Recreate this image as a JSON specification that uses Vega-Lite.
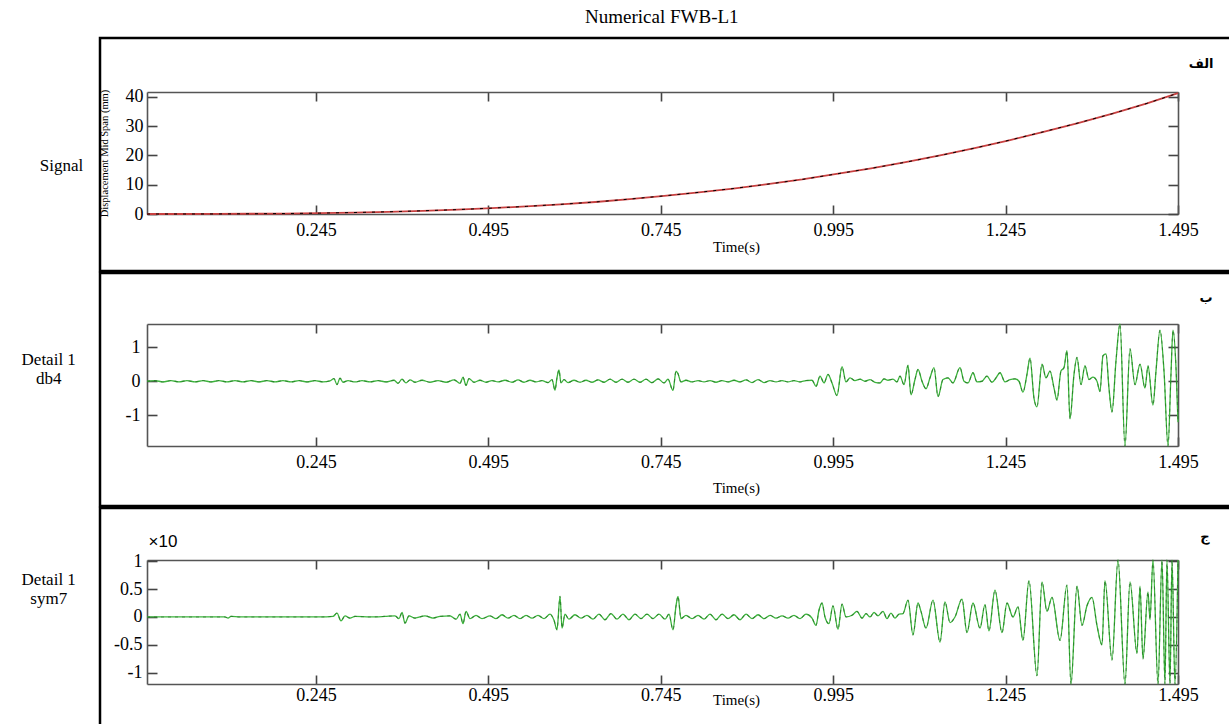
{
 "$schema": "https://vega.github.io/schema/vega-lite/v6.json",
 "padding": {"left": 20, "top": 7, "right": 0, "bottom": 0},
 "title": {"text": "Numerical FWB-L1", "font": "Liberation Serif", "fontSize": 19, "fontWeight": "normal", "anchor": "middle", "offset": 10, "dx": 31, "color": "#000"},
 "spacing": -2.5,
 "config": {
  "view": {"stroke": "#000", "strokeWidth": 2.5},
  "font": "Liberation Serif",
  "axis": {"grid": false, "domainColor": "#555", "domainWidth": 1.6, "tickColor": "#444", "tickWidth": 1.6, "labelColor": "#000", "labelFont": "Liberation Serif", "labelFontSize": 18, "labelFlush": false, "titleFont": "Liberation Serif", "titleFontWeight": "normal", "titleColor": "#000"},
  "title": {"font": "Liberation Serif", "fontWeight": "normal", "color": "#000"}
 },
 "datasets": {
  "sig": [
   {"t":0,"v":0},{"t":0.05,"v":0},{"t":0.1,"v":0.02},{"t":0.15,"v":0.08},{"t":0.2,"v":0.16},{"t":0.25,"v":0.3},{"t":0.3,"v":0.5},{"t":0.35,"v":0.76},{"t":0.4,"v":1.1},{"t":0.45,"v":1.5},{"t":0.5,"v":2.0},{"t":0.55,"v":2.6},{"t":0.6,"v":3.3},{"t":0.65,"v":4.1},{"t":0.7,"v":5.1},{"t":0.75,"v":6.2},{"t":0.8,"v":7.4},{"t":0.85,"v":8.7},{"t":0.9,"v":10.2},{"t":0.95,"v":11.8},{"t":1.0,"v":13.7},{"t":1.05,"v":15.6},{"t":1.1,"v":17.7},{"t":1.15,"v":20.0},{"t":1.2,"v":22.5},{"t":1.25,"v":25.2},{"t":1.3,"v":28.1},{"t":1.35,"v":31.1},{"t":1.4,"v":34.3},{"t":1.45,"v":37.8},{"t":1.495,"v":41.3}
  ],
  "db4": [
   {"t":0,"v":0},{"t":0.0116,"v":0.02},{"t":0.0232,"v":-0.02},{"t":0.0348,"v":0.02},{"t":0.0464,"v":-0.02},{"t":0.058,"v":0.02},{"t":0.0696,"v":-0.02},{"t":0.0812,"v":0.02},{"t":0.0928,"v":-0.02},{"t":0.1044,"v":0.02},{"t":0.116,"v":-0.02},{"t":0.1276,"v":0.02},{"t":0.1392,"v":-0.02},{"t":0.1508,"v":0.02},{"t":0.1624,"v":-0.02},{"t":0.174,"v":0.02},{"t":0.1856,"v":-0.02},{"t":0.1972,"v":0.02},{"t":0.2088,"v":-0.02},{"t":0.2204,"v":0.02},{"t":0.232,"v":-0.02},{"t":0.2436,"v":0.02},{"t":0.2552,"v":-0.02},{"t":0.2654,"v":0.01},{"t":0.2712,"v":0.08},{"t":0.2755,"v":-0.1},{"t":0.2799,"v":0.09},{"t":0.2842,"v":-0.03},{"t":0.2915,"v":0.02},{"t":0.3016,"v":-0.02},{"t":0.3118,"v":0.02},{"t":0.3234,"v":-0.02},{"t":0.335,"v":0.02},{"t":0.3466,"v":-0.02},{"t":0.3582,"v":0.03},{"t":0.364,"v":-0.06},{"t":0.3698,"v":0.06},{"t":0.3756,"v":-0.05},{"t":0.3814,"v":0.04},{"t":0.3886,"v":-0.03},{"t":0.3988,"v":0.03},{"t":0.4104,"v":-0.03},{"t":0.422,"v":0.02},{"t":0.4336,"v":-0.03},{"t":0.4452,"v":0.04},{"t":0.4539,"v":-0.06},{"t":0.4582,"v":0.12},{"t":0.4626,"v":-0.12},{"t":0.4669,"v":0.08},{"t":0.4742,"v":-0.03},{"t":0.4829,"v":0.03},{"t":0.4916,"v":-0.03},{"t":0.5003,"v":0.02},{"t":0.509,"v":-0.02},{"t":0.5191,"v":0.03},{"t":0.5293,"v":-0.03},{"t":0.538,"v":0.04},{"t":0.5467,"v":-0.03},{"t":0.5554,"v":0.03},{"t":0.5641,"v":-0.02},{"t":0.5728,"v":0.02},{"t":0.5815,"v":-0.04},{"t":0.5873,"v":0.05},{"t":0.5916,"v":-0.26},{"t":0.5945,"v":0.1},{"t":0.5974,"v":0.33},{"t":0.6003,"v":-0.05},{"t":0.6047,"v":0.05},{"t":0.6105,"v":-0.04},{"t":0.6192,"v":0.03},{"t":0.6279,"v":-0.03},{"t":0.6366,"v":0.03},{"t":0.6453,"v":-0.03},{"t":0.654,"v":0.04},{"t":0.6627,"v":-0.03},{"t":0.6714,"v":0.06},{"t":0.6801,"v":-0.03},{"t":0.6888,"v":0.06},{"t":0.6975,"v":-0.03},{"t":0.7062,"v":0.06},{"t":0.7149,"v":-0.03},{"t":0.7236,"v":0.06},{"t":0.7323,"v":-0.04},{"t":0.741,"v":0.07},{"t":0.7497,"v":-0.05},{"t":0.7555,"v":0.06},{"t":0.7627,"v":-0.27},{"t":0.7671,"v":0.3},{"t":0.77,"v":0.22},{"t":0.7743,"v":-0.02},{"t":0.7816,"v":0.03},{"t":0.7903,"v":-0.02},{"t":0.799,"v":0.02},{"t":0.8077,"v":-0.02},{"t":0.8164,"v":0.02},{"t":0.8251,"v":-0.03},{"t":0.8338,"v":0.02},{"t":0.8425,"v":-0.02},{"t":0.8512,"v":0.03},{"t":0.8599,"v":-0.02},{"t":0.8686,"v":0.04},{"t":0.8773,"v":-0.04},{"t":0.886,"v":0.05},{"t":0.8947,"v":-0.04},{"t":0.9034,"v":0.02},{"t":0.9121,"v":-0.02},{"t":0.9208,"v":0.02},{"t":0.9295,"v":-0.02},{"t":0.9382,"v":0.02},{"t":0.9469,"v":-0.02},{"t":0.9556,"v":0.02},{"t":0.9643,"v":0.03},{"t":0.9701,"v":-0.15},{"t":0.9759,"v":0.15},{"t":0.9817,"v":-0.05},{"t":0.9875,"v":0.2},{"t":0.9933,"v":-0.05},{"t":1.0005,"v":-0.42},{"t":1.0078,"v":0.43},{"t":1.0136,"v":-0.02},{"t":1.0194,"v":0.1},{"t":1.0266,"v":0.02},{"t":1.0339,"v":0.06},{"t":1.0411,"v":0.0},{"t":1.0484,"v":0.05},{"t":1.0556,"v":-0.03},{"t":1.0629,"v":-0.05},{"t":1.0687,"v":0.07},{"t":1.0745,"v":0.03},{"t":1.0817,"v":0.06},{"t":1.0875,"v":-0.02},{"t":1.0919,"v":0.15},{"t":1.0977,"v":-0.1},{"t":1.1035,"v":0.47},{"t":1.1078,"v":-0.4},{"t":1.1136,"v":0.05},{"t":1.118,"v":0.35},{"t":1.1238,"v":0.0},{"t":1.1296,"v":-0.22},{"t":1.1354,"v":0.1},{"t":1.1412,"v":0.4},{"t":1.147,"v":-0.45},{"t":1.1542,"v":0.05},{"t":1.1615,"v":0.1},{"t":1.1687,"v":-0.05},{"t":1.1789,"v":0.4},{"t":1.1847,"v":0.0},{"t":1.1905,"v":-0.05},{"t":1.1977,"v":0.25},{"t":1.2035,"v":-0.02},{"t":1.2108,"v":0.0},{"t":1.218,"v":0.15},{"t":1.2253,"v":-0.03},{"t":1.2311,"v":0.1},{"t":1.2369,"v":0.25},{"t":1.2441,"v":-0.02},{"t":1.2514,"v":0.05},{"t":1.2586,"v":0.07},{"t":1.2644,"v":0.0},{"t":1.2702,"v":-0.32},{"t":1.276,"v":0.2},{"t":1.2804,"v":0.68},{"t":1.2862,"v":-0.5},{"t":1.2905,"v":-0.75},{"t":1.2978,"v":0.5},{"t":1.3036,"v":0.1},{"t":1.3094,"v":0.3},{"t":1.3152,"v":-0.2},{"t":1.3195,"v":-0.55},{"t":1.3253,"v":0.3},{"t":1.3297,"v":0.4},{"t":1.334,"v":0.9},{"t":1.3384,"v":-1.1},{"t":1.3442,"v":0.2},{"t":1.3485,"v":0.7},{"t":1.3543,"v":-0.1},{"t":1.3601,"v":0.45},{"t":1.3659,"v":0.05},{"t":1.3717,"v":0.12},{"t":1.3775,"v":0.0},{"t":1.3819,"v":-0.3},{"t":1.3862,"v":0.75},{"t":1.3906,"v":0.8},{"t":1.3949,"v":-0.2},{"t":1.3993,"v":-0.9},{"t":1.4051,"v":0.6},{"t":1.4109,"v":1.68},{"t":1.4181,"v":-1.9},{"t":1.4254,"v":0.95},{"t":1.4326,"v":-0.1},{"t":1.4399,"v":0.5},{"t":1.4471,"v":-0.2},{"t":1.4515,"v":0.45},{"t":1.4587,"v":-0.7},{"t":1.4631,"v":0.3},{"t":1.4689,"v":1.5},{"t":1.4747,"v":0.3},{"t":1.4805,"v":-1.9},{"t":1.4848,"v":0.2},{"t":1.4877,"v":1.5},{"t":1.4921,"v":0.4},{"t":1.495,"v":-1.2}
  ],
  "sym7": [
   {"t":0,"v":0},{"t":0.0189,"v":0},{"t":0.0769,"v":0},{"t":0.1131,"v":0},{"t":0.1175,"v":-0.02},{"t":0.1218,"v":0.01},{"t":0.1349,"v":0},{"t":0.1929,"v":0},{"t":0.2509,"v":0},{"t":0.2697,"v":0.01},{"t":0.2755,"v":0.07},{"t":0.2813,"v":-0.07},{"t":0.2871,"v":0.02},{"t":0.2944,"v":-0.02},{"t":0.3016,"v":0.01},{"t":0.3234,"v":0},{"t":0.3451,"v":0.01},{"t":0.3596,"v":0.02},{"t":0.3654,"v":-0.03},{"t":0.3698,"v":0.08},{"t":0.3741,"v":-0.11},{"t":0.3799,"v":0.02},{"t":0.3886,"v":-0.02},{"t":0.4031,"v":0.02},{"t":0.4147,"v":-0.02},{"t":0.4249,"v":0.01},{"t":0.4394,"v":0.02},{"t":0.4481,"v":-0.04},{"t":0.4539,"v":0.05},{"t":0.4582,"v":-0.12},{"t":0.4626,"v":0.1},{"t":0.4684,"v":-0.03},{"t":0.4771,"v":0.03},{"t":0.4858,"v":-0.03},{"t":0.4974,"v":0.02},{"t":0.5061,"v":-0.03},{"t":0.5148,"v":0.04},{"t":0.5235,"v":-0.02},{"t":0.5322,"v":0.03},{"t":0.5409,"v":-0.03},{"t":0.5496,"v":0.03},{"t":0.5583,"v":-0.02},{"t":0.567,"v":0.03},{"t":0.5757,"v":-0.03},{"t":0.5844,"v":0.05},{"t":0.5902,"v":-0.06},{"t":0.5945,"v":-0.23},{"t":0.5989,"v":0.37},{"t":0.6018,"v":-0.2},{"t":0.6061,"v":0.05},{"t":0.6119,"v":-0.04},{"t":0.6206,"v":0.04},{"t":0.6293,"v":-0.02},{"t":0.638,"v":0.03},{"t":0.6467,"v":-0.04},{"t":0.6554,"v":0.05},{"t":0.6641,"v":-0.05},{"t":0.6728,"v":0.06},{"t":0.6815,"v":-0.04},{"t":0.6902,"v":0.05},{"t":0.6989,"v":-0.05},{"t":0.7076,"v":0.05},{"t":0.7163,"v":-0.03},{"t":0.725,"v":0.05},{"t":0.7337,"v":-0.03},{"t":0.7424,"v":0.05},{"t":0.7511,"v":-0.04},{"t":0.7569,"v":0.05},{"t":0.7627,"v":-0.23},{"t":0.7671,"v":0.2},{"t":0.77,"v":0.37},{"t":0.7743,"v":-0.03},{"t":0.7816,"v":0.03},{"t":0.7903,"v":-0.03},{"t":0.799,"v":0.03},{"t":0.8077,"v":-0.04},{"t":0.8164,"v":0.05},{"t":0.8251,"v":-0.05},{"t":0.8338,"v":0.05},{"t":0.8425,"v":-0.03},{"t":0.8512,"v":0.04},{"t":0.8599,"v":-0.05},{"t":0.8686,"v":0.05},{"t":0.8773,"v":-0.03},{"t":0.886,"v":0.04},{"t":0.8947,"v":-0.03},{"t":0.9034,"v":0.03},{"t":0.9121,"v":-0.02},{"t":0.9208,"v":0.02},{"t":0.9295,"v":-0.02},{"t":0.9382,"v":0.03},{"t":0.9469,"v":-0.03},{"t":0.9556,"v":0.05},{"t":0.9643,"v":-0.02},{"t":0.9701,"v":-0.15},{"t":0.9744,"v":0.12},{"t":0.9788,"v":0.25},{"t":0.9831,"v":0.0},{"t":0.9889,"v":-0.12},{"t":0.9947,"v":0.2},{"t":1.002,"v":-0.22},{"t":1.0078,"v":0.23},{"t":1.0136,"v":0.0},{"t":1.0223,"v":0.03},{"t":1.0295,"v":0.1},{"t":1.0368,"v":-0.02},{"t":1.0426,"v":0.06},{"t":1.0484,"v":0.0},{"t":1.0542,"v":0.08},{"t":1.06,"v":0.02},{"t":1.0672,"v":0.1},{"t":1.073,"v":-0.03},{"t":1.0788,"v":0.07},{"t":1.0846,"v":-0.02},{"t":1.0904,"v":0.05},{"t":1.0962,"v":0.06},{"t":1.1035,"v":0.3},{"t":1.1107,"v":-0.32},{"t":1.118,"v":0.25},{"t":1.1223,"v":0.1},{"t":1.1296,"v":-0.2},{"t":1.1397,"v":0.3},{"t":1.1499,"v":-0.45},{"t":1.1571,"v":0.27},{"t":1.1644,"v":-0.1},{"t":1.1716,"v":0.0},{"t":1.1818,"v":0.32},{"t":1.189,"v":-0.28},{"t":1.1977,"v":0.25},{"t":1.2079,"v":-0.2},{"t":1.2151,"v":0.22},{"t":1.2209,"v":-0.25},{"t":1.2296,"v":0.48},{"t":1.2398,"v":-0.28},{"t":1.247,"v":0.25},{"t":1.2557,"v":0.0},{"t":1.263,"v":0.18},{"t":1.2702,"v":-0.42},{"t":1.2789,"v":0.65},{"t":1.2905,"v":-1.05},{"t":1.2978,"v":0.63},{"t":1.305,"v":0.1},{"t":1.3123,"v":0.35},{"t":1.3239,"v":-0.42},{"t":1.334,"v":0.57},{"t":1.3398,"v":-1.2},{"t":1.3485,"v":0.55},{"t":1.3558,"v":-0.15},{"t":1.363,"v":0.2},{"t":1.3703,"v":0.35},{"t":1.3775,"v":-0.15},{"t":1.3848,"v":-0.5},{"t":1.3891,"v":0.65},{"t":1.3993,"v":-0.77},{"t":1.408,"v":1.02},{"t":1.4181,"v":-1.2},{"t":1.4254,"v":0.63},{"t":1.4355,"v":-0.65},{"t":1.4399,"v":0.55},{"t":1.4442,"v":-0.75},{"t":1.4515,"v":0.45},{"t":1.4544,"v":-0.05},{"t":1.4587,"v":1.02},{"t":1.466,"v":-1.2},{"t":1.4718,"v":1.02},{"t":1.4761,"v":-1.2},{"t":1.479,"v":1.02},{"t":1.4834,"v":-1.2},{"t":1.4863,"v":1.02},{"t":1.4906,"v":-1.2},{"t":1.495,"v":1.02}
  ]
 },
 "vconcat": [
  {
   "width": 1140, "height": 233,
   "title": {"text": "Signal", "orient": "left", "angle": 0, "align": "center", "baseline": "middle", "offset": -3, "fontSize": 17, "dy": 11.5, "dx": 3},
   "data": {"name": "sig"},
   "layer": [
    {"mark": {"type": "line", "color": "#c84040", "strokeWidth": 1.8},
     "encoding": {
      "x": {"field": "t", "type": "quantitative", "scale": {"domain": [0, 1.495], "range": [47, 1078], "nice": false, "zero": false},
            "axis": {"orient": "bottom", "offset": -57, "values": [0.245, 0.495, 0.745, 0.995, 1.245, 1.495], "format": ".3f", "tickSize": -9, "labelPadding": 16, "title": "Time(s)", "titleFontSize": 15, "titleX": 636, "titleY": 37, "titleAlign": "center", "titleBaseline": "alphabetic"}},
      "y": {"field": "v", "type": "quantitative", "scale": {"domain": [0, 41.7], "range": [176, 54], "nice": false, "zero": false},
            "axis": {"orient": "left", "offset": -47, "values": [0, 10, 20, 30, 40], "tickSize": -10, "labelPadding": 14, "title": "Displacement Mid Span (mm)", "titleFontSize": 10.5, "titleX": -38, "titleY": 115, "titleAngle": -90, "titleAlign": "center", "titleBaseline": "bottom"}}
     }},
    {"mark": {"type": "line", "color": "#000", "strokeWidth": 1, "strokeDash": [3, 6]},
     "encoding": {
      "x": {"field": "t", "type": "quantitative", "scale": {"domain": [0, 1.495], "range": [47, 1078], "nice": false, "zero": false},
            "axis": {"orient": "top", "offset": -54, "values": [0.245, 0.495, 0.745, 0.995, 1.245, 1.495], "tickSize": -9, "labels": false, "title": null}},
      "y": {"field": "v", "type": "quantitative", "scale": {"domain": [0, 41.7], "range": [176, 54], "nice": false, "zero": false},
            "axis": {"orient": "right", "offset": -62, "values": [0, 10, 20, 30, 40], "tickSize": -10, "labels": false, "title": "الف", "titleAngle": 0, "titleX": 35, "titleY": 29, "titleAlign": "right", "titleBaseline": "alphabetic", "titleFont": "DejaVu Sans", "titleFontWeight": "bold", "titleFontSize": 13}}
     }}
   ]
  },
  {
   "width": 1140, "height": 233,
   "title": {"text": ["Detail 1", "db4"], "orient": "left", "angle": 0, "align": "center", "baseline": "middle", "offset": -3, "fontSize": 17, "dy": -29.5},
   "data": {"name": "db4"},
   "layer": [
    {"mark": {"type": "line", "color": "#3cb43c", "strokeWidth": 1.3, "interpolate": "monotone"},
     "encoding": {
      "x": {"field": "t", "type": "quantitative", "scale": {"domain": [0, 1.495], "range": [47, 1078], "nice": false, "zero": false},
            "axis": {"orient": "bottom", "offset": -60, "values": [0.245, 0.495, 0.745, 0.995, 1.245, 1.495], "format": ".3f", "tickSize": -9, "labelPadding": 16, "title": "Time(s)", "titleFontSize": 15, "titleX": 636, "titleY": 46, "titleAlign": "center", "titleBaseline": "alphabetic"}},
      "y": {"field": "v", "type": "quantitative", "scale": {"domain": [-1.9, 1.68], "range": [173, 51], "nice": false, "zero": false},
            "axis": {"orient": "left", "offset": -47, "values": [-1, 0, 1], "format": "~g", "tickSize": -10, "labelPadding": 17, "labelExpr": "replace(datum.label, '\u2212', '-')", "title": null}}
     }},
    {"mark": {"type": "line", "color": "#1f6a1f", "strokeWidth": 1.1, "strokeDash": [3, 4], "opacity": 0.6, "interpolate": "monotone"},
     "encoding": {
      "x": {"field": "t", "type": "quantitative", "scale": {"domain": [0, 1.495], "range": [47, 1078], "nice": false, "zero": false},
            "axis": {"orient": "top", "offset": -51, "values": [0.245, 0.495, 0.745, 0.995, 1.245, 1.495], "tickSize": -9, "labels": false, "title": null}},
      "y": {"field": "v", "type": "quantitative", "scale": {"domain": [-1.9, 1.68], "range": [173, 51], "nice": false, "zero": false},
            "axis": {"orient": "right", "offset": -62, "values": [-1, 0, 1], "tickSize": -10, "labels": false, "title": "ب", "titleAngle": 0, "titleX": 34, "titleY": 28, "titleAlign": "right", "titleBaseline": "alphabetic", "titleFont": "DejaVu Sans", "titleFontWeight": "bold", "titleFontSize": 13}}
     }}
   ]
  },
  {
   "width": 1140, "height": 225,
   "title": {"text": ["Detail 1", "sym7"], "orient": "left", "angle": 0, "align": "center", "baseline": "middle", "offset": -3, "fontSize": 17, "dy": -40.5},
   "data": {"name": "sym7"},
   "layer": [
    {"mark": {"type": "line", "color": "#3cb43c", "strokeWidth": 1.3, "interpolate": "monotone"},
     "encoding": {
      "x": {"field": "t", "type": "quantitative", "scale": {"domain": [0, 1.495], "range": [47, 1078], "nice": false, "zero": false},
            "axis": {"orient": "bottom", "offset": -49, "values": [0.245, 0.495, 0.745, 0.995, 1.245, 1.495], "format": ".3f", "tickSize": -9, "labelPadding": 11, "title": "Time(s)", "titleFontSize": 15, "titleX": 636, "titleY": 20, "titleAlign": "center", "titleBaseline": "alphabetic"}},
      "y": {"field": "v", "type": "quantitative", "scale": {"domain": [-1.2, 1.02], "range": [176, 52], "nice": false, "zero": false},
            "axis": {"orient": "left", "offset": -47, "values": [-1, -0.5, 0, 0.5, 1], "format": "~g", "tickSize": -10, "labelPadding": 15, "labelExpr": "replace(datum.label, '\u2212', '-')", "title": "×10", "titleFont": "Liberation Sans", "titleFontSize": 17, "titleAngle": 0, "titleX": 1, "titleY": 38, "titleAlign": "left", "titleBaseline": "alphabetic"}}
     }},
    {"mark": {"type": "line", "color": "#1f6a1f", "strokeWidth": 1.1, "strokeDash": [3, 4], "opacity": 0.6, "interpolate": "monotone"},
     "encoding": {
      "x": {"field": "t", "type": "quantitative", "scale": {"domain": [0, 1.495], "range": [47, 1078], "nice": false, "zero": false},
            "axis": {"orient": "top", "offset": -52, "values": [0.245, 0.495, 0.745, 0.995, 1.245, 1.495], "tickSize": -9, "labels": false, "title": null}},
      "y": {"field": "v", "type": "quantitative", "scale": {"domain": [-1.2, 1.02], "range": [176, 52], "nice": false, "zero": false},
            "axis": {"orient": "right", "offset": -62, "values": [-1, -0.5, 0, 0.5, 1], "tickSize": -10, "labels": false, "title": "ج", "titleAngle": 0, "titleX": 31, "titleY": 32, "titleAlign": "right", "titleBaseline": "alphabetic", "titleFont": "DejaVu Sans", "titleFontWeight": "bold", "titleFontSize": 13}}
     }}
   ]
  }
 ]
}
